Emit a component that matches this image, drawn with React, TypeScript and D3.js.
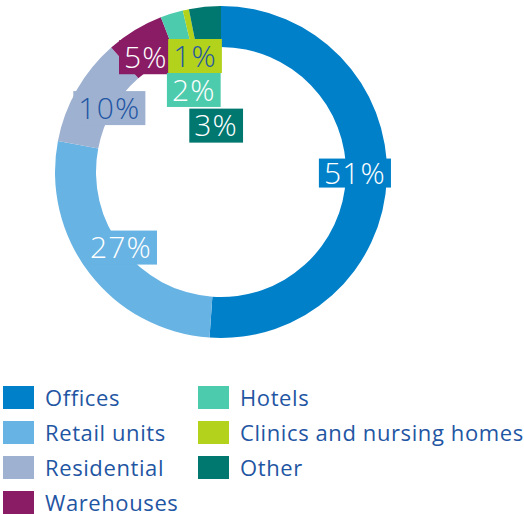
import React, { useEffect, useRef } from "react";
import * as d3 from "d3";

const categories = ["Offices", "Retail units", "Residential", "Warehouses", "Hotels", "Clinics and nursing homes", "Other"];
const values = [51.1, 26.9, 10.5, 5.6, 2.2, 0.6, 3.1];
const labelTexts = ["51%", "27%", "10%", "5%", "2%", "1%", "3%"];
const colors = ["#0080C9", "#67B3E3", "#9EB1D1", "#891C64", "#4DCBAD", "#B2D21C", "#00776F"];
const labelTextColors = ["#ffffff", "#ffffff", "#1F56A3", "#ffffff", "#ffffff", "#1F56A3", "#ffffff"];
// label nudges from the arc centroid (layout, not data)
const labelNudge: [number, number][] = [[2, -3.5], [4.5, -5], [3, 1.5], [-6.5, -2], [12, 44], [2, 13], [8, 85]];
// legend column / row layout
const legendCols = [0, 0, 0, 0, 1, 1, 1];
const legendRows = [0, 1, 2, 3, 0, 1, 2];

const W = 524, H = 514;
const cx = 221, cy = 172, rOuter = 166, rInner = 125, rLabel = 132;
const FONT = "'Open Sans', 'Noto Sans', sans-serif";

export default function App() {
  const ref = useRef<SVGSVGElement>(null);
  useEffect(() => {
    const svg = d3.select(ref.current);
    svg.selectAll("*").remove();
    const pie = d3.pie<number>().sort(null).value((d) => d);
    const arcs = pie(values);
    const arc = d3.arc<d3.PieArcDatum<number>>().innerRadius(rInner).outerRadius(rOuter);
    const labelArc = d3.arc<d3.PieArcDatum<number>>().innerRadius(rLabel).outerRadius(rLabel);
    const g = svg.append("g").attr("transform", `translate(${cx},${cy})`);
    g.selectAll("path").data(arcs).join("path").attr("d", arc as any).attr("fill", (_, i) => colors[i]);

    const lg = g.append("g");
    arcs.forEach((a, i) => {
      const [x, y] = labelArc.centroid(a);
      const px = x + labelNudge[i][0], py = y + labelNudge[i][1];
      const grp = lg.append("g").attr("transform", `translate(${px},${py})`);
      const rect = grp.append("rect").attr("fill", colors[i]);
      const t = grp.append("text")
        .attr("text-anchor", "middle")
        .attr("dy", "0.36em")
        .attr("font-family", FONT)
        .attr("font-weight", 300)
        .attr("font-size", 30)
        .attr("letter-spacing", 1.2)
        .attr("fill", labelTextColors[i])
        .text(labelTexts[i]);
      const bb = (t.node() as SVGTextElement).getBBox();
      const padX = 5;
      const h = i === 0 ? 29 : 34;
      rect.attr("x", -bb.width / 2 - padX).attr("y", -h / 2).attr("width", bb.width + padX * 2).attr("height", h);
    });

    const leg = svg.append("g");
    categories.forEach((c, i) => {
      const x = legendCols[i] === 0 ? 3 : 198;
      const y = 386 + legendRows[i] * 35;
      leg.append("rect").attr("x", x).attr("y", y).attr("width", 31).attr("height", 23).attr("fill", colors[i]);
      leg.append("text").attr("x", x + 42).attr("y", y + 20)
        .attr("font-family", FONT).attr("font-size", 22).attr("letter-spacing", 0.6)
        .attr("fill", "#1F56A3").text(c);
    });
  }, []);
  return (
    <svg ref={ref} width={W} height={H} style={{ position: "absolute", left: 0, top: 0 }} />
  );
}
